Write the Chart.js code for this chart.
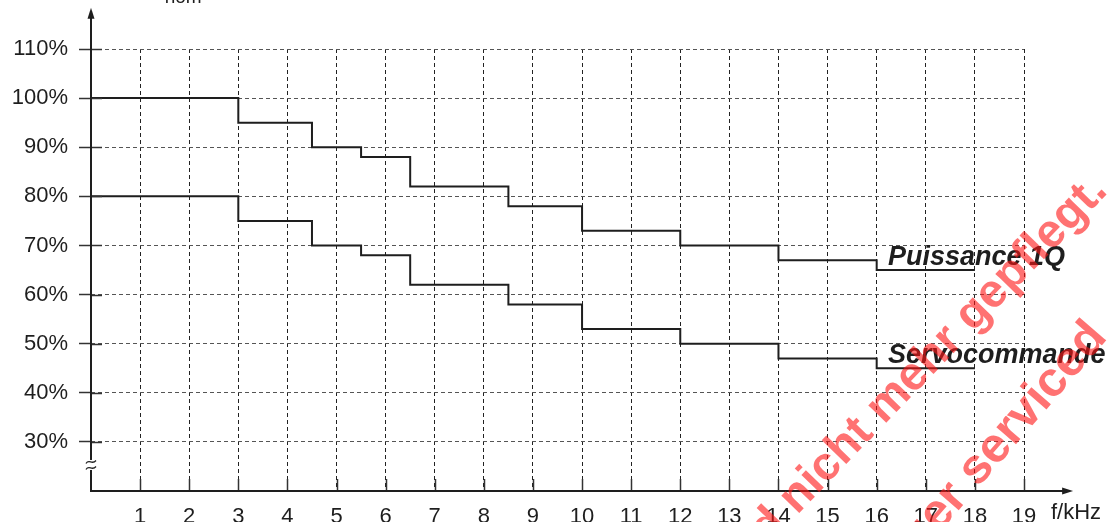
<!DOCTYPE html>
<html>
<head>
<meta charset="utf-8">
<script src="https://cdn.jsdelivr.net/npm/chart.js@4/dist/chart.umd.min.js"></script>
<style>
  html, body { margin: 0; padding: 0; background: #fff; }
  #wrap { position: relative; width: 1111px; height: 522px; }
</style>
</head>
<body>
<div id="wrap"><canvas id="c" width="1111" height="522"></canvas></div>
<script>
// ---- data ----
const freqSteps = [0, 3, 4.5, 5.5, 6.5, 8.5, 10, 12, 14, 16, 18];           // kHz, start of each step
const puissance1Q = [100, 95, 90, 88, 82, 78, 73, 70, 67, 65, 65];            // %
const servocommande = [80, 75, 70, 68, 62, 58, 53, 50, 47, 45, 45];           // %
const seriesNames = ['Puissance 1Q', 'Servocommande'];
const yTickValues = [30, 40, 50, 60, 70, 80, 90, 100, 110];
const xTickValues = [1, 2, 3, 4, 5, 6, 7, 8, 9, 10, 11, 12, 13, 14, 15, 16, 17, 18, 19];
const xUnit = 'f/kHz';
const yUnitSub = 'nom';
const watermark1 = ['Dieses Produkt wird nicht ', 'mehr gepflegt.'];
const watermark2 = ['This product is no longer ', 'serviced'];

const FONT = "'Liberation Sans', Arial, Helvetica, sans-serif";
const INK = '#1e1e1e';

function pts(xs, ys) { return xs.map((x, i) => ({ x: x, y: ys[i] })); }

const decor = {
  id: 'decor',
  afterDraw(chart) {
    const ctx = chart.ctx;
    const xs = chart.scales.x, ys = chart.scales.y;
    const x0 = xs.getPixelForValue(0), y0 = ys.getPixelForValue(20);
    ctx.save();
    // solid tick stubs inside the plot
    ctx.strokeStyle = '#333'; ctx.lineWidth = 1.5; ctx.setLineDash([]);
    yTickValues.forEach(v => {
      const p = Math.round(ys.getPixelForValue(v)) + 0.5;
      ctx.beginPath(); ctx.moveTo(x0, p); ctx.lineTo(x0 + 11, p); ctx.stroke();
    });
    xTickValues.forEach(v => {
      const p = Math.round(xs.getPixelForValue(v)) + 0.5;
      ctx.beginPath(); ctx.moveTo(p, y0); ctx.lineTo(p, y0 - 12); ctx.stroke();
    });
    // axes with arrows
    const yTop = ys.getPixelForValue(118.4);
    const xEnd = xs.getPixelForValue(20);
    ctx.strokeStyle = INK; ctx.fillStyle = INK; ctx.lineWidth = 2;
    ctx.beginPath(); ctx.moveTo(x0, y0); ctx.lineTo(x0, yTop + 8); ctx.stroke();
    ctx.beginPath(); ctx.moveTo(x0 - 1, y0); ctx.lineTo(xEnd - 8, y0); ctx.stroke();
    ctx.beginPath(); ctx.moveTo(x0, yTop); ctx.lineTo(x0 - 3.5, yTop + 11); ctx.lineTo(x0 + 3.5, yTop + 11); ctx.closePath(); ctx.fill();
    ctx.beginPath(); ctx.moveTo(xEnd, y0); ctx.lineTo(xEnd - 11, y0 - 3.5); ctx.lineTo(xEnd - 11, y0 + 3.5); ctx.closePath(); ctx.fill();
    // axis break
    const yb = ys.getPixelForValue(25.3);
    ctx.fillStyle = '#fff';
    ctx.fillRect(x0 - 3, yb - 5, 6, 10);
    ctx.strokeStyle = INK; ctx.lineWidth = 1.3;
    [-3, 3].forEach(d => {
      ctx.beginPath();
      ctx.moveTo(x0 - 5, yb + d + 1.5);
      ctx.bezierCurveTo(x0 - 2, yb + d - 3.5, x0 + 1, yb + d + 3.5, x0 + 5, yb + d - 1.5);
      ctx.stroke();
    });
    // unit texts
    ctx.fillStyle = INK;
    ctx.font = '22px ' + FONT;
    ctx.textAlign = 'left'; ctx.textBaseline = 'alphabetic';
    ctx.fillText(xUnit, xs.getPixelForValue(19.55), y0 + 28);
    ctx.font = '19px ' + FONT;
    ctx.fillText(yUnitSub, xs.getPixelForValue(1.5), 3);
    // series labels
    ctx.font = 'italic bold 27px ' + FONT;
    ctx.fillText(seriesNames[0], xs.getPixelForValue(16.23), ys.getPixelForValue(66.0));
    ctx.fillText(seriesNames[1], xs.getPixelForValue(16.23), ys.getPixelForValue(46.0));
    // watermark
    ctx.fillStyle = 'rgba(255, 20, 20, 0.6)';
    function wm(parts, ax, ay, ang, size) {
      ctx.save();
      ctx.translate(ax, ay); ctx.rotate(-ang * Math.PI / 180);
      ctx.font = 'bold ' + size + 'px ' + FONT;
      ctx.textAlign = 'right'; ctx.fillText(parts[0], 0, 0);
      ctx.textAlign = 'left'; ctx.fillText(parts[1], 0, 0);
      ctx.restore();
    }
    wm(watermark1, 884, 425, 46, 47);
    wm(watermark2, 978, 488, 49, 49);
    ctx.restore();
  }
};

new Chart(document.getElementById('c'), {
  type: 'line',
  data: {
    datasets: [
      { label: seriesNames[0], data: pts(freqSteps, puissance1Q), stepped: true,
        borderColor: INK, borderWidth: 2, pointRadius: 0, fill: false },
      { label: seriesNames[1], data: pts(freqSteps, servocommande), stepped: true,
        borderColor: INK, borderWidth: 2, pointRadius: 0, fill: false }
    ]
  },
  options: {
    responsive: false,
    animation: false,
    events: [],
    layout: { padding: { left: 0, right: 87, top: 49, bottom: 0 } },
    plugins: { legend: { display: false }, tooltip: { enabled: false } },
    scales: {
      x: {
        type: 'linear', min: 0, max: 19,
        afterBuildTicks: s => { s.ticks = [0].concat(xTickValues).map(v => ({ value: v })); },
        afterFit: s => { s.height = 31; },
        ticks: { autoSkip: false, maxRotation: 0, padding: 13, color: INK,
                 font: { family: FONT, size: 22 },
                 callback: v => (v === 0 ? '' : String(v)) },
        grid: { color: ctx => (ctx.tick && ctx.tick.value === 0 ? 'rgba(0,0,0,0)' : '#222'),
                lineWidth: 1, drawTicks: false },
        border: { display: false, dash: [4, 3] }
      },
      y: {
        type: 'linear', min: 20, max: 110,
        afterBuildTicks: s => { s.ticks = [20].concat(yTickValues).map(v => ({ value: v })); },
        afterFit: s => { s.width = 91; },
        ticks: { padding: 11, color: INK, font: { family: FONT, size: 22 },
                 callback: v => (v === 20 ? '' : v + '%') },
        grid: { color: ctx => (ctx.tick && ctx.tick.value === 20 ? 'rgba(0,0,0,0)' : '#555'),
                lineWidth: 1, drawTicks: true, tickLength: 12,
                tickColor: ctx => (ctx.tick && ctx.tick.value === 20 ? 'rgba(0,0,0,0)' : '#333'),
                tickWidth: 1.5, tickBorderDash: [] },
        border: { display: false, dash: [4, 3] }
      }
    }
  },
  plugins: [decor]
});
</script>
</body>
</html>
